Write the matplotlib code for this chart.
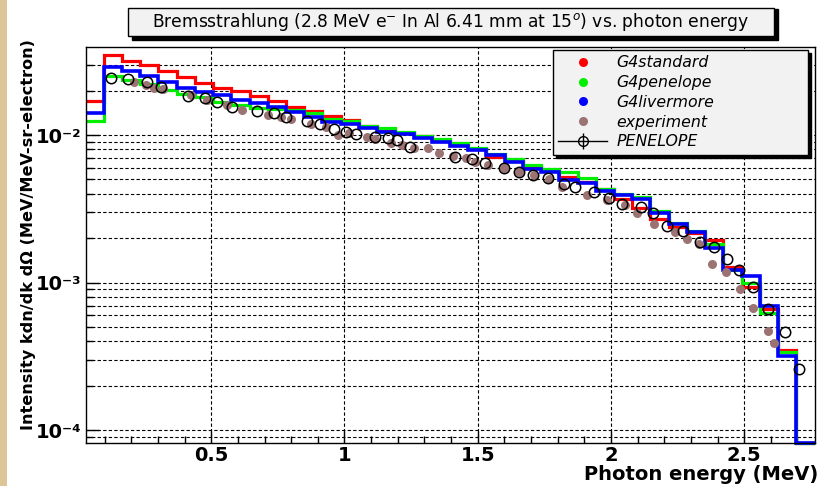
import numpy as np
import matplotlib
matplotlib.use("Agg")
import matplotlib.pyplot as plt
from matplotlib.lines import Line2D
from matplotlib.patches import Rectangle
from matplotlib.ticker import FixedLocator, NullFormatter, LogLocator

plt.rcParams['font.family'] = ['DejaVu Sans']
plt.rcParams['mathtext.fontset'] = 'dejavusans'

# histogram binning (MeV)
e_lo, e_hi, n_bins = 0.028, 2.764, 40
y_lo, y_hi = 8.2e-5, 0.0395

# simulated spectra per bin (MeV/MeV-sr-electron)
g4standard = [0.0169, 0.0350, 0.0319, 0.0300, 0.0270, 0.0246, 0.0225, 0.0208, 0.0198, 0.0183,
              0.0169, 0.0156, 0.0145, 0.0135, 0.0126, 0.0116, 0.0110, 0.0103, 0.0098, 0.0091,
              0.0086, 0.0080, 0.0071, 0.0068, 0.0061, 0.0058, 0.0052, 0.0048, 0.0043, 0.0037,
              0.0032, 0.00272, 0.00239, 0.00216, 0.00196, 0.00128, 0.00094, 0.00066, 0.00035, 0.0]
g4penelope = [0.0124, 0.0250, 0.0236, 0.0223, 0.0202, 0.0191, 0.0182, 0.0168, 0.0160, 0.0152,
              0.0150, 0.0148, 0.0140, 0.0128, 0.0124, 0.0116, 0.0111, 0.0105, 0.0099, 0.0094,
              0.0088, 0.0082, 0.0074, 0.0069, 0.0063, 0.0059, 0.0056, 0.0051, 0.0043, 0.0040,
              0.0038, 0.00307, 0.00252, 0.00224, 0.00184, 0.00122, 0.00100, 0.00062, 0.00034, 0.0]
g4livermore = [0.0141, 0.0289, 0.0270, 0.0250, 0.0228, 0.0210, 0.0196, 0.01876, 0.01735, 0.01648,
               0.0154, 0.0144, 0.0133, 0.0123, 0.0118, 0.0111, 0.01053, 0.0101, 0.0095, 0.0090,
               0.0084, 0.0079, 0.0073, 0.0066, 0.00585, 0.00564, 0.00495, 0.0047, 0.0042, 0.0039,
               0.0037, 0.00297, 0.00248, 0.00222, 0.00171, 0.00122, 0.00111, 0.00069, 0.00032, 0.0]

# measured points
exp_e = [0.211, 0.254, 0.285, 0.318, 0.423, 0.485, 0.560, 0.616, 0.713, 0.760,
         0.798, 0.873, 0.932, 0.976, 1.016, 1.085, 1.116, 1.173, 1.216, 1.260,
         1.313, 1.356, 1.407, 1.457, 1.491, 1.540, 1.600, 1.656, 1.712, 1.766,
         1.816, 1.910, 1.985, 2.054, 2.098, 2.160, 2.241, 2.285, 2.332, 2.379,
         2.432, 2.485, 2.535, 2.590, 2.611]
exp_val = [0.02287, 0.02183, 0.02093, 0.02067, 0.01867, 0.01727, 0.01597, 0.01477, 0.01377, 0.01331,
           0.01284, 0.01197, 0.01138, 0.01000, 0.01027, 0.00974, 0.00940, 0.00883, 0.00856, 0.00813,
           0.00816, 0.00751, 0.00720, 0.00695, 0.00659, 0.00626, 0.00594, 0.00564, 0.00536, 0.00502,
           0.00447, 0.00392, 0.00362, 0.00335, 0.00297, 0.00249, 0.00221, 0.00199, 0.00182, 0.00133,
           0.00119, 0.000913, 0.000677, 0.000473, 0.000389]

# PENELOPE reference calculation
pen_e = [0.123, 0.189, 0.260, 0.310, 0.413, 0.475, 0.520, 0.579, 0.673, 0.735,
         0.781, 0.860, 0.909, 0.960, 1.004, 1.045, 1.116, 1.164, 1.197, 1.244,
         1.416, 1.479, 1.529, 1.598, 1.654, 1.709, 1.763, 1.822, 1.866, 1.935,
         1.991, 2.041, 2.113, 2.156, 2.210, 2.272, 2.335, 2.385, 2.434, 2.481,
         2.534, 2.589, 2.654, 2.706]
pen_val = [0.02446, 0.02397, 0.02277, 0.02126, 0.01846, 0.01773, 0.01682, 0.01541, 0.01461, 0.01416,
           0.01318, 0.01250, 0.01191, 0.01093, 0.01056, 0.01011, 0.00974, 0.00959, 0.00921, 0.00829,
           0.00713, 0.00692, 0.00651, 0.00597, 0.00564, 0.00540, 0.00513, 0.00468, 0.00444, 0.00413,
           0.00372, 0.00343, 0.00327, 0.00297, 0.00242, 0.00224, 0.00189, 0.00175, 0.00144, 0.00121,
           0.000942, 0.000663, 0.000464, 0.000262]

fig = plt.figure(figsize=(8.22, 4.86), dpi=100)
# slide background strip on the left edge
fig.patches.append(Rectangle((0, 0), 7 / 822, 1, transform=fig.transFigure,
                             facecolor='#dcc596', edgecolor='none'))
ax = fig.add_axes([85.5 / 822, 1 - 443 / 486, 729 / 822, 396 / 486])

edges = np.linspace(e_lo, e_hi, n_bins + 1)
for vals, col, lw in [(g4standard, '#ff0000', 2.3), (g4penelope, '#00ee00', 2.3), (g4livermore, '#0000ff', 2.6)]:
    v = np.array(vals, dtype=float)
    v = np.where(v > 0, v, y_lo)   # empty bins sit on the frame, as in ROOT
    ax.stairs(v, edges, color=col, lw=lw, baseline=None, zorder=3, clip_on=False)

ax.plot(exp_e, exp_val, 'o', color='#9b7373', ms=6.5, mew=0, zorder=4)
ax.plot(pen_e, pen_val, 'o', mfc='none', mec='black', ms=7.5, mew=1.1, zorder=5)

ax.set_yscale('log')
ax.set_xlim(e_lo, e_hi)
ax.set_ylim(y_lo, y_hi)

ax.xaxis.set_major_locator(FixedLocator([0.5, 1.0, 1.5, 2.0, 2.5]))
ax.xaxis.set_minor_locator(FixedLocator(np.arange(0.1, 2.75, 0.1)))
ax.set_xticklabels(['0.5', '1', '1.5', '2', '2.5'], fontweight='bold', fontsize=14)
ax.yaxis.set_major_locator(FixedLocator([1e-4, 1e-3, 1e-2]))
ax.yaxis.set_minor_locator(LogLocator(base=10, subs=np.arange(2, 10)))
ax.yaxis.set_minor_formatter(NullFormatter())
ax.set_yticklabels(['10\u207b\u2074', '10\u207b\u00b3', '10\u207b\u00b2'], fontweight='bold', fontsize=14)
ax.tick_params(which='both', direction='in', top=False, right=False, width=1)
ax.tick_params(which='major', length=9)
ax.tick_params(which='minor', length=5)
ax.tick_params(axis='x', which='major', pad=2)
ax.tick_params(axis='y', which='major', pad=3)

ax.grid(True, which='major', axis='x', color='black', lw=0.8, ls=(0, (3, 2)))
ax.grid(True, which='both', axis='y', color='black', lw=0.8, ls=(0, (3, 2)))
for s in ax.spines.values():
    s.set_linewidth(1.0)
    s.set_zorder(6)

ax.set_xlabel('Photon energy (MeV)', fontweight='bold', fontsize=14)
ax.xaxis.set_label_coords(1.005, -(474 - 443) / 396)
ax.xaxis.label.set_ha('right')
ax.xaxis.label.set_va('center')
ax.set_ylabel('Intensity kdn/dk d\u03a9 (MeV/MeV-sr-electron)', fontweight='bold', fontsize=11.6)
ax.yaxis.set_label_coords(-(85.5 - 29) / 729, 1 - (235 - 47) / 396)
ax.yaxis.label.set_va('center')

handles = [
    Line2D([], [], ls='none', marker='o', color='#ff0000', ms=6.5, mew=0),
    Line2D([], [], ls='none', marker='o', color='#00ee00', ms=6.5, mew=0),
    Line2D([], [], ls='none', marker='o', color='#0000ff', ms=6.5, mew=0),
    Line2D([], [], ls='none', marker='o', color='#9b7373', ms=6.5, mew=0),
    (Line2D([], [], color='black', lw=1),
     Line2D([], [], ls='none', marker='|', color='black', ms=12, mew=1),
     Line2D([], [], ls='none', marker='o', mfc='none', mec='black', ms=7, mew=1)),
]
labels = ['G4standard', 'G4penelope', 'G4livermore', 'experiment', 'PENELOPE']
x0 = (553 - 85.5) / 729
x1 = (808 - 85.5) / 729
leg = ax.legend(handles, labels, loc='upper left', mode='expand',
                bbox_to_anchor=(x0, 0.74, x1 - x0, 1 - 3 / 396 - 0.74),
                prop={'style': 'italic', 'size': 11.3}, frameon=True, fancybox=False,
                edgecolor='black', facecolor='#f2f2f2', framealpha=1, borderpad=0.35,
                labelspacing=0.3, handlelength=3.1, handletextpad=0.6, borderaxespad=0,
                shadow={'color': 'black', 'alpha': 1})
leg.get_frame().set_linewidth(1.0)
leg.set_zorder(10)

# title box with shadow
fig.patches.append(Rectangle((132 / 822, 1 - 40 / 486), 646 / 822, 31 / 486,
                             transform=fig.transFigure, facecolor='black', edgecolor='black'))
fig.patches.append(Rectangle((128 / 822, 1 - 36 / 486), 646 / 822, 28 / 486,
                             transform=fig.transFigure, facecolor='#f2f2f2', edgecolor='black', lw=1))
fig.text(451 / 822, 1 - 22 / 486,
         r'Bremsstrahlung (2.8 MeV e$^{-}$ In Al 6.41 mm at 15$^{o}$) vs. photon energy',
         ha='center', va='center', fontsize=12.3)

fig.savefig('out.png', dpi=100)
